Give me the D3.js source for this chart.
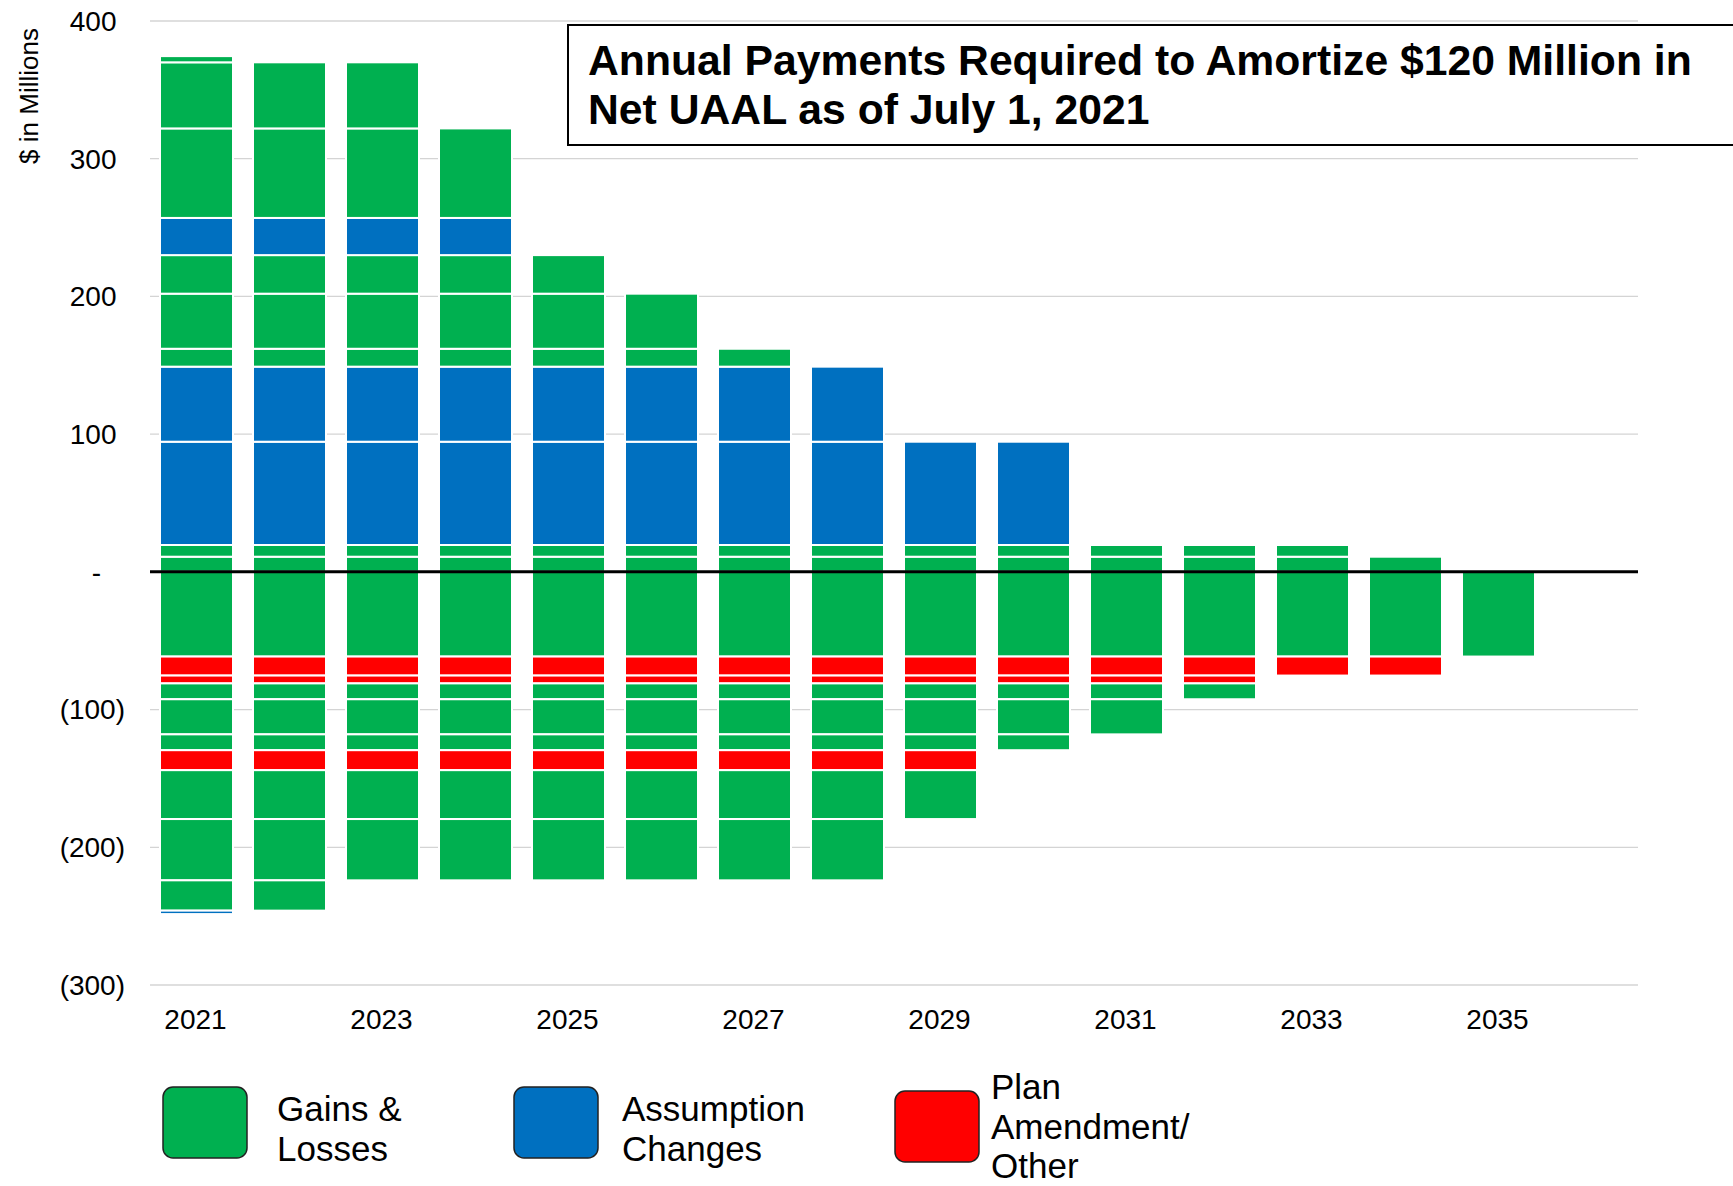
<!DOCTYPE html>
<html>
<head>
<meta charset="utf-8">
<script src="https://cdn.jsdelivr.net/npm/d3@7"></script>
<style>
  body { margin: 0; background: #fff; }
  svg { display: block; font-family: Arial, "Liberation Sans", sans-serif; }
</style>
</head>
<body>
<svg id="chart" width="1733" height="1186"></svg>
<script>
// categories on the x axis (2036 is an empty slot at the right end)
const categories = [2021, 2022, 2023, 2024, 2025, 2026, 2027, 2028, 2029, 2030, 2031, 2032, 2033, 2034, 2035, 2036];
const years      = [2021, 2022, 2023, 2024, 2025, 2026, 2027, 2028, 2029, 2030, 2031, 2032, 2033, 2034, 2035];
const xTickLabels = [2021, 2023, 2025, 2027, 2029, 2031, 2033, 2035];
const yTickValues = [-300, -200, -100, 0, 100, 200, 300, 400];

// amortization layers, $ millions per year (2021 .. 2035)
// positive layers, stacked up from zero
const pos01 = [11, 11, 11, 11, 11, 11, 11, 11, 11, 11, 11, 11, 11, 11, 0];
const pos02 = [8.5, 8.5, 8.5, 8.5, 8.5, 8.5, 8.5, 8.5, 8.5, 8.5, 8.5, 8.5, 8.5, 0, 0];
const pos03 = [75, 75, 75, 75, 75, 75, 75, 75, 75, 75, 0, 0, 0, 0, 0];
const pos04 = [54.5, 54.5, 54.5, 54.5, 54.5, 54.5, 54.5, 54.5, 0, 0, 0, 0, 0, 0, 0];
const pos05 = [13, 13, 13, 13, 13, 13, 13, 0, 0, 0, 0, 0, 0, 0, 0];
const pos06 = [40, 40, 40, 40, 40, 40, 0, 0, 0, 0, 0, 0, 0, 0, 0];
const pos07 = [28, 28, 28, 28, 28, 0, 0, 0, 0, 0, 0, 0, 0, 0, 0];
const pos08 = [27, 27, 27, 27, 0, 0, 0, 0, 0, 0, 0, 0, 0, 0, 0];
const pos09 = [65, 65, 65, 65, 0, 0, 0, 0, 0, 0, 0, 0, 0, 0, 0];
const pos10 = [48, 48, 48, 0, 0, 0, 0, 0, 0, 0, 0, 0, 0, 0, 0];
const pos11 = [4.5, 0, 0, 0, 0, 0, 0, 0, 0, 0, 0, 0, 0, 0, 0];
// negative layers, stacked down from zero
const neg01 = [-61.5, -61.5, -61.5, -61.5, -61.5, -61.5, -61.5, -61.5, -61.5, -61.5, -61.5, -61.5, -61.5, -61.5, -61.5];
const neg02 = [-13.8, -13.8, -13.8, -13.8, -13.8, -13.8, -13.8, -13.8, -13.8, -13.8, -13.8, -13.8, -13.8, -13.8, 0];
const neg03 = [-5.7, -5.7, -5.7, -5.7, -5.7, -5.7, -5.7, -5.7, -5.7, -5.7, -5.7, -5.7, 0, 0, 0];
const neg04 = [-11.5, -11.5, -11.5, -11.5, -11.5, -11.5, -11.5, -11.5, -11.5, -11.5, -11.5, -11.5, 0, 0, 0];
const neg05 = [-25.5, -25.5, -25.5, -25.5, -25.5, -25.5, -25.5, -25.5, -25.5, -25.5, -25.5, 0, 0, 0, 0];
const neg06 = [-11.5, -11.5, -11.5, -11.5, -11.5, -11.5, -11.5, -11.5, -11.5, -11.5, 0, 0, 0, 0, 0];
const neg07 = [-14.5, -14.5, -14.5, -14.5, -14.5, -14.5, -14.5, -14.5, -14.5, 0, 0, 0, 0, 0, 0];
const neg08 = [-35.5, -35.5, -35.5, -35.5, -35.5, -35.5, -35.5, -35.5, -35.5, 0, 0, 0, 0, 0, 0];
const neg09 = [-44.5, -44.5, -44.5, -44.5, -44.5, -44.5, -44.5, -44.5, 0, 0, 0, 0, 0, 0, 0];
const neg10 = [-22, -22, 0, 0, 0, 0, 0, 0, 0, 0, 0, 0, 0, 0, 0];
const neg11 = [-2.5, 0, 0, 0, 0, 0, 0, 0, 0, 0, 0, 0, 0, 0, 0];

const layers = [pos01, pos02, pos03, pos04, pos05, pos06, pos07, pos08, pos09, pos10, pos11,
                neg01, neg02, neg03, neg04, neg05, neg06, neg07, neg08, neg09, neg10, neg11];
// G = Gains & Losses, A = Assumption Changes, P = Plan Amendment/Other
const layerTypes = ["G", "G", "A", "A", "G", "G", "G", "A", "G", "G", "G",
                    "G", "P", "P", "G", "G", "G", "P", "G", "G", "G", "A"];

const legendTypes = ["G", "A", "P"];
const legendLabels = [["Gains &", "Losses"], ["Assumption", "Changes"], ["Plan", "Amendment/", "Other"]];
const titleLines = ["Annual Payments Required to Amortize $120 Million in", "Net UAAL as of July 1, 2021"];

const colors = { G: "#00B050", A: "#0070C0", P: "#FF0000" };

const svg = d3.select("#chart");

const xScale = d3.scaleBand()
  .domain(categories)
  .range([150, 1638])
  .paddingInner(0.215)
  .paddingOuter(0.1075);

const yScale = d3.scaleLinear()
  .domain([-300, 400])
  .range([985, 21]);

// gridlines
svg.append("g")
  .selectAll("line")
  .data(yTickValues.filter(v => v !== 0))
  .enter()
  .append("line")
  .attr("x1", 150).attr("x2", 1638)
  .attr("y1", d => yScale(d)).attr("y2", d => yScale(d))
  .attr("stroke", "#d4d4d4")
  .attr("stroke-width", 1.3);

// y tick labels in accounting style
const fmt = d => d === 0 ? "-" : d < 0 ? "(" + Math.abs(d) + ")" : String(d);
svg.append("g")
  .selectAll("text")
  .data(yTickValues)
  .enter()
  .append("text")
  .attr("x", d => d < 0 ? 125 : d === 0 ? 101 : 116.5)
  .attr("y", d => yScale(d))
  .attr("dy", "0.35em")
  .attr("text-anchor", "end")
  .attr("font-size", 28)
  .attr("fill", "#000")
  .text(fmt);

// stacked bars
const keys = layers.map((_, i) => "L" + i);
const rows = years.map((yr, j) => {
  const row = { year: yr };
  layers.forEach((l, i) => { row["L" + i] = l[j]; });
  return row;
});
const stacked = d3.stack().keys(keys).offset(d3.stackOffsetDiverging)(rows);

svg.append("g")
  .selectAll("g")
  .data(stacked)
  .enter()
  .append("g")
  .attr("fill", (s, i) => colors[layerTypes[i]])
  .selectAll("rect")
  .data(s => s.filter(d => d[1] - d[0] !== 0))
  .enter()
  .append("rect")
  .attr("x", d => xScale(d.data.year))
  .attr("width", xScale.bandwidth())
  .attr("y", d => yScale(Math.max(d[0], d[1])))
  .attr("height", d => Math.abs(yScale(d[0]) - yScale(d[1])))
  .attr("stroke", "#fff")
  .attr("stroke-width", 2);

// zero line
svg.append("line")
  .attr("x1", 150).attr("x2", 1638)
  .attr("y1", yScale(0)).attr("y2", yScale(0))
  .attr("stroke", "#000")
  .attr("stroke-width", 3);

// x tick labels
svg.append("g")
  .selectAll("text")
  .data(xTickLabels)
  .enter()
  .append("text")
  .attr("x", d => xScale(d) + xScale.bandwidth() / 2 - 1)
  .attr("y", 1029)
  .attr("text-anchor", "middle")
  .attr("font-size", 28)
  .text(d => d);

// y axis title
svg.append("text")
  .attr("transform", "translate(38,96) rotate(-90)")
  .attr("text-anchor", "middle")
  .attr("font-size", 26)
  .text("$ in Millions");

// title box
svg.append("rect")
  .attr("x", 568).attr("y", 25)
  .attr("width", 1180).attr("height", 120)
  .attr("fill", "#fff")
  .attr("stroke", "#000")
  .attr("stroke-width", 2);

svg.append("g")
  .selectAll("text")
  .data(titleLines)
  .enter()
  .append("text")
  .attr("x", 588)
  .attr("y", (d, i) => 75 + i * 49)
  .attr("font-size", 42.7)
  .attr("font-weight", "bold")
  .text(d => d);

// legend
const legendBoxX = [163, 514, 895];
const legendBoxY = [1087, 1087, 1091];
const legendTextX = [277, 622, 991];
const legendFirstBaseline = [1121, 1121, 1099];

const legend = svg.append("g")
  .selectAll("g")
  .data(legendTypes)
  .enter()
  .append("g");

legend.append("rect")
  .attr("x", (d, i) => legendBoxX[i])
  .attr("y", (d, i) => legendBoxY[i])
  .attr("width", 84)
  .attr("height", 71)
  .attr("rx", 10)
  .attr("fill", d => colors[d])
  .attr("stroke", "#222")
  .attr("stroke-width", 1.5);

legend.each(function(d, i) {
  d3.select(this)
    .selectAll("text")
    .data(legendLabels[i])
    .enter()
    .append("text")
    .attr("x", legendTextX[i])
    .attr("y", (t, k) => legendFirstBaseline[i] + k * 39.5)
    .attr("font-size", 35)
    .text(t => t);
});
</script>
</body>
</html>
